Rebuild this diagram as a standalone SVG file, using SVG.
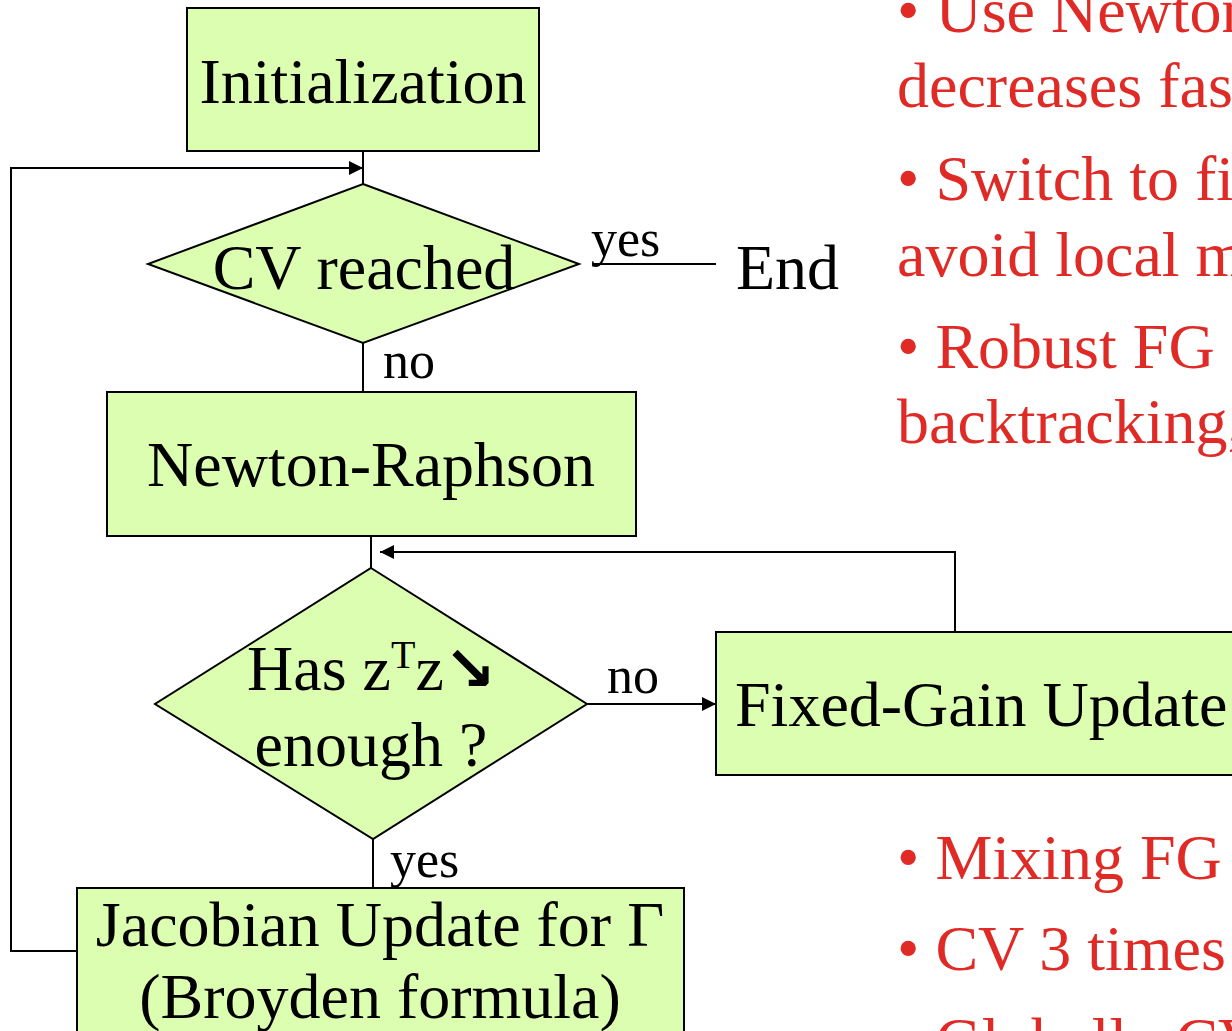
<svg xmlns="http://www.w3.org/2000/svg" width="1232" height="1031" viewBox="0 0 1232 1031">
  <style>
    .box { fill: #DCFEB0; stroke: #000; stroke-width: 2; }
    .lbl { font-family: "Liberation Serif", "Times New Roman", serif; fill: #000; }
    .big { font-size: 64px; }
    .small { font-size: 52px; }
    .note { font-family: "Liberation Serif", "Times New Roman", serif; font-size: 64px; fill: #DF2A26; }
    .wire { fill: none; stroke: #000; stroke-width: 2; }
  </style>
  <defs>
    <marker id="arrow" viewBox="0 0 14 14" refX="14" refY="7" markerWidth="14" markerHeight="14" markerUnits="userSpaceOnUse" orient="auto">
      <path d="M0,0 L14,7 L0,14 Z" fill="#000"/>
    </marker>
  </defs>
  <rect width="1232" height="1031" fill="#fff"/>

  <!-- connectors -->
  <g id="connectors">
    <line class="wire" x1="363" y1="151" x2="363" y2="184"/>
    <polyline class="wire" points="77,951 11,951 11,168 363,168" marker-end="url(#arrow)"/>
    <line class="wire" x1="592" y1="264" x2="716" y2="264"/>
    <line class="wire" x1="363" y1="343" x2="363" y2="392"/>
    <line class="wire" x1="371" y1="536" x2="371" y2="568"/>
    <polyline class="wire" points="955,632 955,552 380,552" marker-end="url(#arrow)"/>
    <line class="wire" x1="587" y1="704" x2="716" y2="704" marker-end="url(#arrow)"/>
    <line class="wire" x1="373" y1="839" x2="373" y2="888"/>
    <text class="lbl small" x="591" y="256">yes</text>
    <text class="lbl small" x="383" y="378">no</text>
    <text class="lbl small" x="607" y="693">no</text>
    <text class="lbl small" x="390" y="877">yes</text>
  </g>

  <!-- flowchart nodes -->
  <g id="init">
    <rect class="box" x="187" y="8" width="352" height="143"/>
    <text class="lbl big" x="363" y="103" text-anchor="middle">Initialization</text>
  </g>
  <g id="cv-check">
    <polygon class="box" points="363,184 579,264 363,343 148,264"/>
    <text class="lbl big" x="364" y="289" text-anchor="middle">CV reached</text>
  </g>
  <g id="end">
    <text class="lbl big" x="736" y="289">End</text>
  </g>
  <g id="newton">
    <rect class="box" x="107" y="392" width="529" height="144"/>
    <text class="lbl big" x="371" y="486" text-anchor="middle">Newton-Raphson</text>
  </g>
  <g id="decrease-check">
    <polygon class="box" points="371,568 587,704 373,839 155,704"/>
    <text class="lbl big" x="247" y="690">Has z<tspan font-size="40" dy="-22">T</tspan><tspan dy="22">z</tspan><tspan font-family="DejaVu Sans, sans-serif" font-weight="bold" font-size="62">↘</tspan></text>
    <text class="lbl big" x="371" y="766" text-anchor="middle">enough ?</text>
  </g>
  <g id="fixed-gain">
    <rect class="box" x="716" y="632" width="560" height="143"/>
    <text class="lbl big" x="735" y="726">Fixed-Gain Update</text>
  </g>
  <g id="jacobian">
    <rect class="box" x="77" y="888" width="607" height="170"/>
    <text class="lbl big" x="380" y="946" text-anchor="middle">Jacobian Update for Γ</text>
    <text class="lbl big" x="380" y="1018" text-anchor="middle">(Broyden formula)</text>
  </g>

  <!-- side notes -->
  <g id="notes-top">
    <text class="note" x="897" y="32">• Use Newton</text>
    <text class="note" x="897" y="107">decreases fast</text>
    <text class="note" x="897" y="200">• Switch to fi</text>
    <text class="note" x="897" y="276">avoid local m</text>
    <text class="note" x="897" y="368">• Robust FG</text>
    <text class="note" x="897" y="443">backtracking,</text>
  </g>
  <g id="notes-bottom">
    <text class="note" x="897" y="879">• Mixing FG</text>
    <text class="note" x="897" y="970">• CV 3 times</text>
    <text class="note" x="897" y="1062">• Globally CV</text>
  </g>
</svg>
